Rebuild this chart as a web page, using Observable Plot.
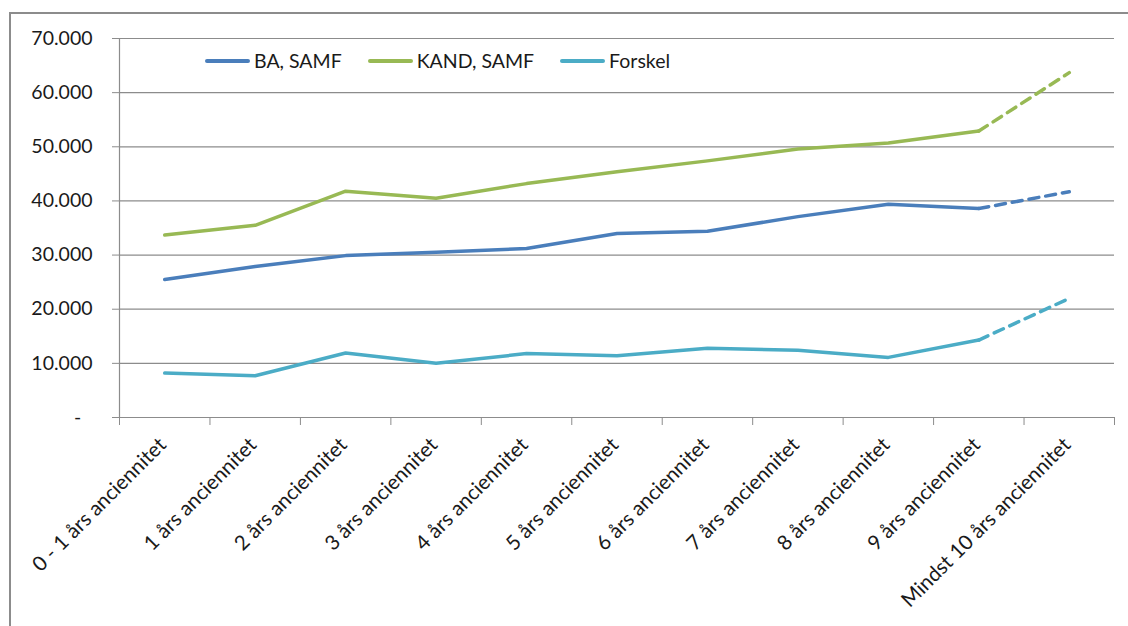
<!DOCTYPE html>
<html>
<head>
<meta charset="utf-8">
<script src="https://cdn.jsdelivr.net/npm/d3@7"></script>
<script src="https://cdn.jsdelivr.net/npm/@observablehq/plot@0.6"></script>
<style>
  body { margin: 0; background: #fff; font-family: Lato, "Open Sans", sans-serif; }
  #wrap { position: relative; width: 1128px; height: 626px; overflow: hidden; }
  #frame { position: absolute; left: 9px; top: 12px; width: 1300px; height: 800px; border: 2px solid #8c8c8c; box-sizing: border-box; pointer-events: none; }
  #legend { position: absolute; left: 205px; top: 50px; display: flex; gap: 26px; font-size: 19.5px; color: #1a1a1a; line-height: 22px; }
  .item { display: flex; align-items: center; }
  .sw { display: inline-block; width: 45px; height: 4px; border-radius: 2px; margin-right: 4px; }
</style>
</head>
<body>
<div id="wrap">
  <div id="frame"></div>
  <div id="chart"></div>
  <div id="legend"></div>
</div>
<script>
// Anciennitetstrin
const categories = [
  "0 - 1 års anciennitet", "1 års anciennitet", "2 års anciennitet", "3 års anciennitet",
  "4 års anciennitet", "5 års anciennitet", "6 års anciennitet", "7 års anciennitet",
  "8 års anciennitet", "9 års anciennitet", "Mindst 10 års anciennitet"
];
// Løn pr. trin
const baSamf    = [25500, 27900, 29900, 30500, 31200, 34000, 34400, 37100, 39400, 38600, 41700];
const kandSamf  = [33700, 35500, 41800, 40500, 43200, 45400, 47400, 49600, 50700, 52900, 63700];
const forskel   = [8200, 7700, 11900, 10000, 11800, 11400, 12800, 12400, 11100, 14300, 22000];
const yTicks    = [0, 10000, 20000, 30000, 40000, 50000, 60000, 70000];

const seriesNames  = ["BA, SAMF", "KAND, SAMF", "Forskel"];
const seriesValues = [baSamf, kandSamf, forskel];
const seriesColors = ["#4A7EBB", "#98B954", "#4BACC6"];

// The last step (open-ended seniority) is drawn dashed
const lastIdx = categories.length - 1;
const rows = seriesValues.map((vals, s) => vals.map((v, i) => ({i, v, s})));

const danish = d3.formatLocale({decimal: ",", thousands: ".", grouping: [3], currency: ["", " kr."]});
const fmt = danish.format(",");
const grid = "#8c8c8c";

const lineMarks = [];
rows.forEach((r, s) => {
  lineMarks.push(Plot.line(r.filter(d => d.i <= lastIdx - 1), {
    x: "i", y: "v", stroke: seriesColors[s], strokeWidth: 3.5, strokeLinejoin: "round", strokeLinecap: "round"
  }));
  lineMarks.push(Plot.line(r.filter(d => d.i >= lastIdx - 1), {
    x: "i", y: "v", stroke: seriesColors[s], strokeWidth: 3.5, strokeDasharray: "10,7", strokeLinecap: "round"
  }));
});

const chart = Plot.plot({
  width: 1128,
  height: 626,
  marginLeft: 119,
  marginRight: 14,
  marginTop: 38,
  marginBottom: 209,
  style: {fontFamily: "Lato, 'Open Sans', sans-serif", fontSize: "19px", color: "#1a1a1a", background: "transparent"},
  x: {domain: [-0.5, lastIdx + 0.5]},
  y: {domain: [0, 70000]},
  marks: [
    Plot.gridY({ticks: yTicks, stroke: grid, strokeOpacity: 1, strokeWidth: 1.2}),
    Plot.ruleX([-0.5], {stroke: grid, strokeWidth: 1.2}),
    Plot.ruleY([0], {stroke: grid, strokeWidth: 1.2}),
    Plot.axisY({
      ticks: yTicks, tickSize: 7, tickPadding: 20, stroke: grid, fill: "#1a1a1a", fontSize: 19.5,
      label: null, tickFormat: d => d === 0 ? "-\u2007" : fmt(d)
    }),
    Plot.axisX({
      ticks: d3.range(categories.length + 1).map(k => k - 0.5),
      tickSize: 8, stroke: grid, label: null, tickFormat: () => ""
    }),
    Plot.axisX({
      ticks: d3.range(categories.length), tickSize: 0, tickRotate: -45, tickPadding: 24,
      fill: "#1a1a1a", fontSize: 20.5, label: null, tickFormat: i => categories[i], dx: -2
    }),
    ...lineMarks
  ]
});
document.getElementById("chart").appendChild(chart);

const legend = document.getElementById("legend");
seriesNames.forEach((name, s) => {
  const item = document.createElement("div");
  item.className = "item";
  const sw = document.createElement("span");
  sw.className = "sw";
  sw.style.background = seriesColors[s];
  const t = document.createElement("span");
  t.textContent = name;
  item.appendChild(sw);
  item.appendChild(t);
  legend.appendChild(item);
});
</script>
</body>
</html>
